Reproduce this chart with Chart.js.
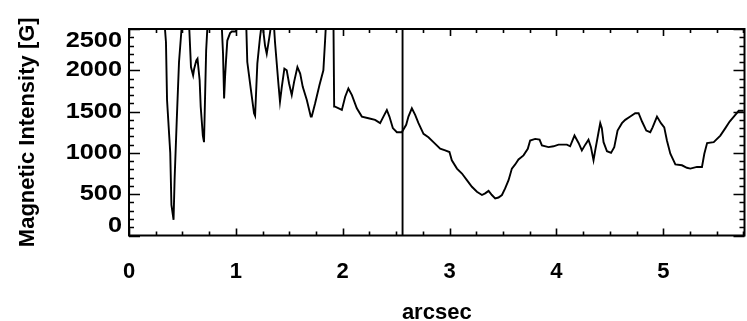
<!DOCTYPE html>
<html>
<head>
<meta charset="utf-8">
<script src="https://cdn.jsdelivr.net/npm/chart.js@4/dist/chart.umd.min.js"></script>
<style>
  html, body { margin: 0; padding: 0; background: #fff; }
  #wrap { width: 747px; height: 321px; position: relative; }
</style>
</head>
<body>
<div id="wrap"><canvas id="profile"></canvas></div>
<script>
// Field strength along the slit (arcsec vs gauss), values above 2500 G run off the top
const positions = [
  0.325, 0.346, 0.356, 0.386, 0.397, 0.417, 0.427, 0.447, 0.468, 0.488, 0.498,
  0.559, 0.569, 0.580, 0.600, 0.610, 0.630, 0.641, 0.661, 0.671, 0.691, 0.702, 0.722, 0.732, 0.752,
  0.864, 0.880, 0.890, 0.899, 0.908, 0.920, 0.946, 0.962, 1.002, 1.012,
  1.095, 1.107, 1.139, 1.170, 1.180, 1.201, 1.226, 1.246, 1.273, 1.289, 1.311, 1.336,
  1.351, 1.367, 1.398, 1.413, 1.430, 1.454, 1.476, 1.498, 1.523, 1.545, 1.576, 1.602,
  1.626, 1.664, 1.701, 1.710, 1.742, 1.782, 1.819, 1.835, 1.845,
  1.913, 1.920, 1.929, 1.992, 2.023, 2.053, 2.086, 2.132, 2.179, 2.241, 2.303,
  2.350, 2.381, 2.413, 2.437, 2.469, 2.507, 2.553, 2.594, 2.615, 2.647, 2.678,
  2.709, 2.756, 2.802, 2.849, 2.912, 2.959, 2.999, 3.021, 3.069, 3.116, 3.162,
  3.209, 3.256, 3.303, 3.333, 3.365, 3.396, 3.427, 3.458, 3.490, 3.520, 3.552,
  3.583, 3.614, 3.645, 3.692, 3.732, 3.754, 3.801, 3.842, 3.864, 3.926, 3.973,
  4.020, 4.098, 4.128, 4.169, 4.207, 4.238, 4.270, 4.300, 4.323, 4.347, 4.363,
  4.394, 4.410, 4.425, 4.441, 4.473, 4.511, 4.541, 4.572, 4.613, 4.644, 4.691,
  4.737, 4.769, 4.801, 4.841, 4.878, 4.900, 4.941, 4.978, 5.009, 5.034, 5.066,
  5.113, 5.175, 5.221, 5.253, 5.315, 5.362, 5.384, 5.410, 5.472, 5.534, 5.581,
  5.621, 5.674, 5.706, 5.752
];
const gauss = [
  2700, 2340, 1640, 1000, 370, 190, 690, 1400, 2100, 2440, 2600,
  2650, 2360, 2040, 1940, 2020, 2120, 2140, 1880, 1560, 1210, 1130, 2240, 2480, 2650,
  2650, 2200, 1660, 1920, 2120, 2360, 2450, 2470, 2470, 2650,
  2650, 2100, 1780, 1480, 1450, 2080, 2400, 2600, 2300, 2200, 2380, 2600,
  2650, 2330, 1840, 1620, 1800, 2020, 2000, 1840, 1700, 1860, 2040, 1960,
  1800, 1640, 1440, 1440, 1600, 1820, 2000, 2360, 2600,
  2650, 1560, 1560, 1520, 1680, 1780, 1700, 1540, 1440, 1420, 1400,
  1360, 1440, 1520, 1440, 1300, 1250, 1250, 1340, 1440, 1540, 1460,
  1360, 1230, 1190, 1130, 1050, 1030, 1010, 910, 810, 750, 670,
  590, 530, 490, 510, 540, 490, 450, 460, 490, 570, 670,
  810, 860, 920, 970, 1050, 1150, 1170, 1160, 1090, 1070, 1080,
  1100, 1100, 1080, 1210, 1120, 1030, 1100, 1160, 1070, 910, 1030,
  1250, 1360, 1300, 1130, 1020, 1000, 1070, 1270, 1360, 1400, 1440,
  1480, 1480, 1380, 1270, 1250, 1310, 1440, 1360, 1310, 1150, 990,
  860, 850, 820, 810, 830, 830, 990, 1120, 1130, 1210, 1300,
  1380, 1460, 1510, 1510
];
// marker for the cut position
const cutPosition = 2.56;
const xTickValues = [0, 1, 2, 3, 4, 5];
const yTickValues = [0, 500, 1000, 1500, 2000, 2500];

const FONT = 'Liberation Sans, Arial, Helvetica, sans-serif';

// IDL-style box: frame, inward ticks on all four sides, y labels
const boxAxes = {
  id: 'boxAxes',
  afterDatasetsDraw(chart) {
    const { ctx, chartArea: a, scales: { x, y } } = chart;
    ctx.save();
    ctx.strokeStyle = '#000';
    ctx.lineWidth = 2;
    ctx.strokeRect(a.left, a.top, a.right - a.left, a.bottom - a.top);

    ctx.lineWidth = 1.6;
    ctx.beginPath();
    for (let k = 0; k * 0.25 <= x.max + 1e-9; k++) {
      const px = Math.round(x.getPixelForValue(k * 0.25)) + 0.5;
      const len = k % 4 === 0 ? 7 : 4;
      ctx.moveTo(px, a.bottom); ctx.lineTo(px, a.bottom - len);
      ctx.moveTo(px, a.top); ctx.lineTo(px, a.top + len);
    }
    for (let k = 0; k <= 25; k++) {
      const py = Math.round(y.getPixelForValue(k * 100)) + 0.5;
      const len = k % 5 === 0 ? 11 : 5;
      ctx.moveTo(a.left, py); ctx.lineTo(a.left + len, py);
      ctx.moveTo(a.right, py); ctx.lineTo(a.right - len, py);
    }
    ctx.stroke();

    ctx.fillStyle = '#000';
    ctx.font = 'bold 22px ' + FONT;
    ctx.textAlign = 'right';
    ctx.textBaseline = 'middle';
    yTickValues.forEach(v => {
      let py = y.getPixelForValue(v);
      py = Math.min(Math.max(py, a.top + 12), a.bottom - 10);
      ctx.save();
      ctx.translate(a.left - 7, py);
      ctx.scale(1.15, 1);
      ctx.fillText(String(v), 0, 0);
      ctx.restore();
    });
    ctx.restore();
  }
};

new Chart(document.getElementById('profile'), {
  type: 'line',
  data: {
    datasets: [
      {
        data: positions.map((p, i) => ({ x: p, y: gauss[i] })),
        borderColor: '#000',
        borderWidth: 1.9,
        pointRadius: 0,
        tension: 0,
        fill: false
      },
      {
        data: [{ x: cutPosition, y: 0 }, { x: cutPosition, y: 2500 }],
        borderColor: '#000',
        borderWidth: 1.9,
        pointRadius: 0,
        fill: false
      }
    ]
  },
  options: {
    responsive: true,
    maintainAspectRatio: false,
    animation: false,
    devicePixelRatio: 1,
    layout: { padding: { top: 29, right: 2.5, left: 0, bottom: 0 } },
    plugins: { legend: { display: false }, tooltip: { enabled: false } },
    scales: {
      x: {
        type: 'linear',
        min: 0,
        max: 5.76,
        grid: { display: false },
        border: { display: false },
        afterBuildTicks(s) { s.ticks = xTickValues.map(v => ({ value: v })); },
        afterFit(s) { s.height = 85.5; s.paddingRight = 0; },
        ticks: {
          padding: 15,
          color: '#000',
          font: { family: FONT, size: 22, weight: 'bold' },
          maxRotation: 0,
          autoSkip: false,
          callback: v => String(v)
        },
        title: {
          display: true,
          text: 'arcsec',
          color: '#000',
          font: { family: FONT, size: 22, weight: 'bold' },
          padding: { top: 0, bottom: -5 }
        }
      },
      y: {
        min: 0,
        max: 2500,
        grid: { display: false },
        border: { display: false },
        afterFit(s) { s.width = 129; },
        ticks: { display: false },
        title: {
          display: true,
          text: 'Magnetic Intensity [G]',
          color: '#000',
          font: { family: FONT, size: 22, weight: 'bold' },
          padding: { top: 15, bottom: 0 }
        }
      }
    }
  },
  plugins: [boxAxes]
});
</script>
</body>
</html>
